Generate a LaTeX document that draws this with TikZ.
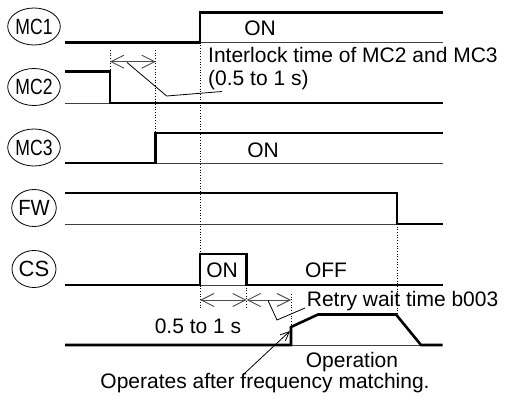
\documentclass[tikz,border=0pt]{standalone}
\usepackage{fontspec}
\setmainfont{Liberation Sans}
\usetikzlibrary{arrows.meta,shapes.geometric}
\begin{document}
\begin{tikzpicture}[x=1pt,y=-1pt,
  sig/.style={line width=2.6pt, line join=miter},
  base/.style={line width=0.8pt, black!75},
  guide/.style={dotted, line width=0.7pt},
  dim/.style={line width=0.9pt, black!70, {Straight Barb[length=13pt,width=13pt]}-{Straight Barb[length=13pt,width=13pt]}},
  lead/.style={line width=0.8pt},
  lbl/.style={draw, ellipse, line width=0.8pt, minimum width=44pt, minimum height=37pt, inner sep=0pt, font=\fontsize{22}{24}\selectfont},
  txt/.style={font=\fontsize{21}{23}\selectfont, inner sep=0pt},
]
\useasboundingbox (0,0) rectangle (512,398);
% labels
\node[lbl] (mc1) at (34,26.5) {\scalebox{0.8}[1]{MC1}};
\node[lbl] (mc2) at (34,87) {\scalebox{0.8}[1]{MC2}};
\node[lbl] (mc3) at (34,147.5) {\scalebox{0.8}[1]{MC3}};
\node[lbl] (fw) at (34,208) {\scalebox{0.92}[1]{FW}};
\node[lbl] (cs) at (34,269) {CS};
% thin baselines
\draw[base] (200,42.7) -- (442.7,42.7);
\draw[base] (65,103) -- (110,103);
\draw[base] (155.7,163) -- (442.7,163);
\draw[base] (65,224) -- (397,224);
\draw[base] (200,285) -- (246.7,285);
\draw[base] (291,345) -- (421,345);
% guides
\draw[guide] (200,42.7) -- (200,308);
\draw[guide] (110,50) -- (110,71.7);
\draw[guide] (155.7,50) -- (155.7,133);
\draw[guide] (397,224) -- (397,315);
\draw[guide] (246.7,285) -- (246.7,308);
\draw[guide] (291,294) -- (291,345);
% signals
\draw[sig] (65,42.7) -- (200,42.7) -- (200,12.7) -- (442.7,12.7);
\draw[sig] (65,71.7) -- (110,71.7) -- (110,103) -- (442.7,103);
\draw[sig] (65,163) -- (155.7,163) -- (155.7,133) -- (442.7,133);
\draw[sig] (65,193) -- (397,193) -- (397,224) -- (442.7,224);
\draw[sig] (65,285) -- (200,285) -- (200,254) -- (246.7,254) -- (246.7,285) -- (442.7,285);
\draw[sig] (65,345) -- (291,345) -- (291,327) -- (318,314.5) -- (396,314.5) -- (421,345) -- (442.7,345);
% texts
\node[txt, anchor=base] (on1) at (260,35.8) {ON};
\node[txt, anchor=base west] (il1) at (208,62.8) {Interlock time of MC2 and MC3};
\node[txt, anchor=base west] (il2) at (208,85.5) {(0.5 to 1 s)};
\node[txt, anchor=base] (on3) at (263,158) {ON};
\node[txt, anchor=base] (on5) at (222,278) {ON};
\node[txt, anchor=base] (off5) at (326,278) {OFF};
\node[txt, anchor=base] (dt) at (198,333.5) {0.5 to 1 s};
\node[txt, anchor=base west] (rw) at (306.7,306.5) {Retry wait time b003};
\node[txt, anchor=base] (op) at (352,368) {Operation};
\node[txt, anchor=base] (opf) at (265,388.5) {Operates after frequency matching.};
% dimension arrows
\draw[dim] (110,61.7) -- (155.7,61.7);
\draw[dim] (200,300) -- (246.7,300);
\draw[dim] (246.7,300) -- (291,300);
% leaders
\coordinate (ilA) at (127,62.5);
\coordinate (ilB) at (166.7,96);
\coordinate (ilC) at (222,91.5);
\draw[lead] (ilA) -- (ilB) -- (ilC);
\coordinate (rwA) at (268,300.5);
\coordinate (rwB) at (277,320);
\coordinate (rwC) at (305,308);
\draw[lead] (rwA) -- (rwB) -- (rwC);
\coordinate (opA) at (245,373);
\coordinate (opB) at (290,331);
\draw[lead, -{Straight Barb[length=9pt,width=8pt]}] (opA) -- (opB);
\end{tikzpicture}
\end{document}
